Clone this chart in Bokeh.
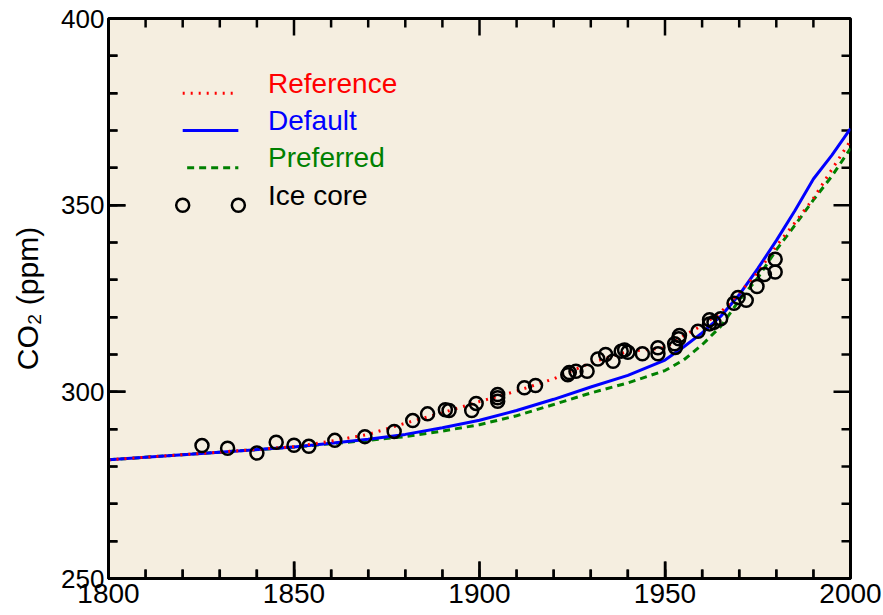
from bokeh.plotting import figure
from bokeh.models import Range1d, LinearAxis, FixedTicker, ColumnDataSource, Segment
from bokeh.core.properties import value
from bokeh.embed import file_html
from bokeh.resources import INLINE

# ---------------- data ----------------
YEARS = [1800, 1825, 1850, 1860, 1870, 1880, 1890, 1900, 1910, 1920, 1930, 1940,
         1950, 1955, 1960, 1965, 1970, 1975, 1980, 1985, 1990, 1995, 2000]
REFERENCE = [281.8, 283.5, 285.3, 286.8, 288.6, 291.6, 294.4, 297.4, 300.2, 303.5, 307.8, 310.8,
             311.8, 315.0, 317.8, 321.3, 326.5, 332.0, 339.0, 345.3, 351.8, 359.6, 367.3]
DEFAULT = [281.8, 283.5, 285.2, 286.2, 287.3, 288.6, 290.4, 292.4, 295.0, 298.0, 301.3, 304.4,
           308.5, 312.0, 315.8, 320.2, 326.0, 333.0, 340.5, 348.5, 357.0, 363.4, 370.5]
PREFERRED = [281.8, 283.5, 285.2, 286.1, 287.0, 288.0, 289.5, 291.2, 293.6, 296.6, 299.7, 302.4,
             305.7, 308.5, 312.6, 317.5, 324.5, 330.5, 338.0, 344.6, 351.4, 357.8, 365.2]

ICE_YEAR = [1825.2, 1832.1, 1840.0, 1845.2, 1850.0, 1854.0, 1861.0, 1869.1, 1877.0, 1882.0,
            1886.0, 1890.8, 1891.8, 1897.9, 1899.1, 1904.9, 1904.9, 1904.9, 1912.1, 1915.1,
            1923.8, 1924.2, 1926.0, 1929.0, 1931.9, 1934.0, 1936.0, 1938.2, 1939.1, 1940.0,
            1943.9, 1948.1, 1948.1, 1952.6, 1952.8, 1953.7, 1953.9, 1958.9, 1962.0, 1962.0,
            1963.2, 1965.0, 1968.6, 1969.7, 1971.9, 1974.8, 1976.8, 1979.7, 1979.7]
ICE_PPM = [285.6, 284.9, 283.6, 286.5, 285.7, 285.4, 287.0, 288.0, 289.4, 292.3,
           294.1, 295.2, 295.0, 295.0, 296.9, 299.3, 298.4, 297.5, 301.1, 301.7,
           304.6, 305.2, 305.5, 305.5, 308.8, 310.0, 308.2, 310.9, 311.2, 310.6,
           310.2, 311.8, 310.2, 312.9, 311.9, 314.2, 315.1, 316.2, 319.3, 318.2,
           318.6, 319.6, 323.7, 325.3, 324.5, 328.2, 331.4, 335.5, 332.1]

X_TICKS = [1800, 1850, 1900, 1950, 2000]
Y_TICKS = [250, 300, 350, 400]
LEGEND_LABELS = ["Reference", "Default", "Preferred", "Ice core"]
Y_LABEL = "CO\u2082 (ppm)"

# ---------------- layout / styles ----------------
W, H = 883, 615
BL, BR, BT, BB = 108, 33, 18, 37          # borders around the plotting frame (px)
X0, X1, Y0, Y1 = X_TICKS[0], X_TICKS[-1], Y_TICKS[0], Y_TICKS[-1]
MINOR_STEP = 10
MAJOR_LEN, MINOR_LEN = 17, 9               # inward tick lengths (px)
BG = "#F5EEE0"
FONT = "Liberation Sans"
RED, BLUE, GREEN, BLACK = "#FF0000", "#0000FF", "#008000", "#000000"

p = figure(width=W, height=H, output_backend="svg", toolbar_location=None,
           x_range=Range1d(X0, X1), y_range=Range1d(Y0, Y1),
           x_axis_location=None, y_axis_location=None,
           min_border_left=BL, min_border_right=BR, min_border_top=BT, min_border_bottom=BB,
           background_fill_color=BG, border_fill_color="white",
           outline_line_color="black", outline_line_width=3)
p.grid.visible = False


def make_axis(ticks, font_px, standoff):
    minor = list(range(ticks[0], ticks[-1] + 1, MINOR_STEP))
    ax = LinearAxis(ticker=FixedTicker(ticks=ticks, minor_ticks=minor))
    ax.axis_line_width = 3
    ax.axis_line_color = "black"
    ax.major_tick_in = MAJOR_LEN
    ax.major_tick_out = 0
    ax.minor_tick_in = MINOR_LEN
    ax.minor_tick_out = 0
    ax.major_tick_line_width = 2
    ax.minor_tick_line_width = 2
    ax.major_tick_line_color = "black"
    ax.minor_tick_line_color = "black"
    ax.major_label_text_font = FONT
    ax.major_label_text_font_size = font_px
    ax.major_label_text_color = "black"
    ax.major_label_standoff = standoff
    return ax


bottom = make_axis(X_TICKS, "28px", 5)
left = make_axis(Y_TICKS, "26px", 4)
left.axis_label = Y_LABEL
left.axis_label_text_font = FONT
left.axis_label_text_font_size = "30px"
left.axis_label_text_font_style = "normal"
left.axis_label_text_color = "black"
left.axis_label_standoff = 14
p.add_layout(bottom, "below")
p.add_layout(left, "left")

# ---------------- inward ticks on all four sides (drawn as segments) ----------------
px_x = (X1 - X0) / (W - BL - BR)    # data units per pixel, horizontally
px_y = (Y1 - Y0) / (H - BT - BB)    # data units per pixel, vertically
xt = [float(t) for t in range(X0, X1 + 1, MINOR_STEP)]
yt = [float(t) for t in range(Y0, Y1 + 1, MINOR_STEP)]
xl = [MAJOR_LEN if t in X_TICKS else MINOR_LEN for t in xt]
yl = [MAJOR_LEN if t in Y_TICKS else MINOR_LEN for t in yt]
tick_src = ColumnDataSource(dict(
    x0=xt + xt + [float(X0)] * len(yt) + [float(X1)] * len(yt),
    y0=[float(Y0)] * len(xt) + [float(Y1)] * len(xt) + yt + yt,
    x1=xt + xt + [X0 + l * px_x for l in yl] + [X1 - l * px_x for l in yl],
    y1=[Y0 + l * px_y for l in xl] + [Y1 - l * px_y for l in xl] + yt + yt,
))
p.add_glyph(tick_src, Segment(x0="x0", y0="y0", x1="x1", y1="y1",
                              line_color="black", line_width=2.5))

# ---------------- curves ----------------
src = ColumnDataSource(dict(year=YEARS, ref=REFERENCE, dflt=DEFAULT, pref=PREFERRED))
p.line("year", "pref", source=src, line_color=GREEN, line_width=3, line_dash="7 5")
p.line("year", "dflt", source=src, line_color=BLUE, line_width=3)
p.line("year", "ref", source=src, line_color=RED, line_width=3, line_dash="2 6")

ice = ColumnDataSource(dict(year=ICE_YEAR, ppm=ICE_PPM))
p.scatter("year", "ppm", source=ice, marker="circle", size=13, fill_color=None,
          line_color=BLACK, line_width=2.5)

# ---------------- legend (drawn in data space, IDL-style) ----------------
LX0, LX1, LTX = 1820, 1835, 1843
LYS = [380, 370, 360, 350]
p.line([LX0, LX1], [LYS[0]] * 2, line_color=RED, line_width=3, line_dash="2 6")
p.line([LX0, LX1], [LYS[1]] * 2, line_color=BLUE, line_width=3)
p.line([LX0 + 1.2, LX1], [LYS[2]] * 2, line_color=GREEN, line_width=3, line_dash="7 5")
p.scatter([LX0, LX1], [LYS[3]] * 2, marker="circle", size=13, fill_color=None,
          line_color=BLACK, line_width=2.5)
p.text(x=[LTX] * 4, y=LYS, text=LEGEND_LABELS,
       text_color=[RED, BLUE, GREEN, BLACK],
       text_font=value(FONT), text_font_size=value("28px"),
       text_baseline="middle", text_align="left", y_offset=-10)

open("out.html", "w").write(file_html(p, INLINE))
